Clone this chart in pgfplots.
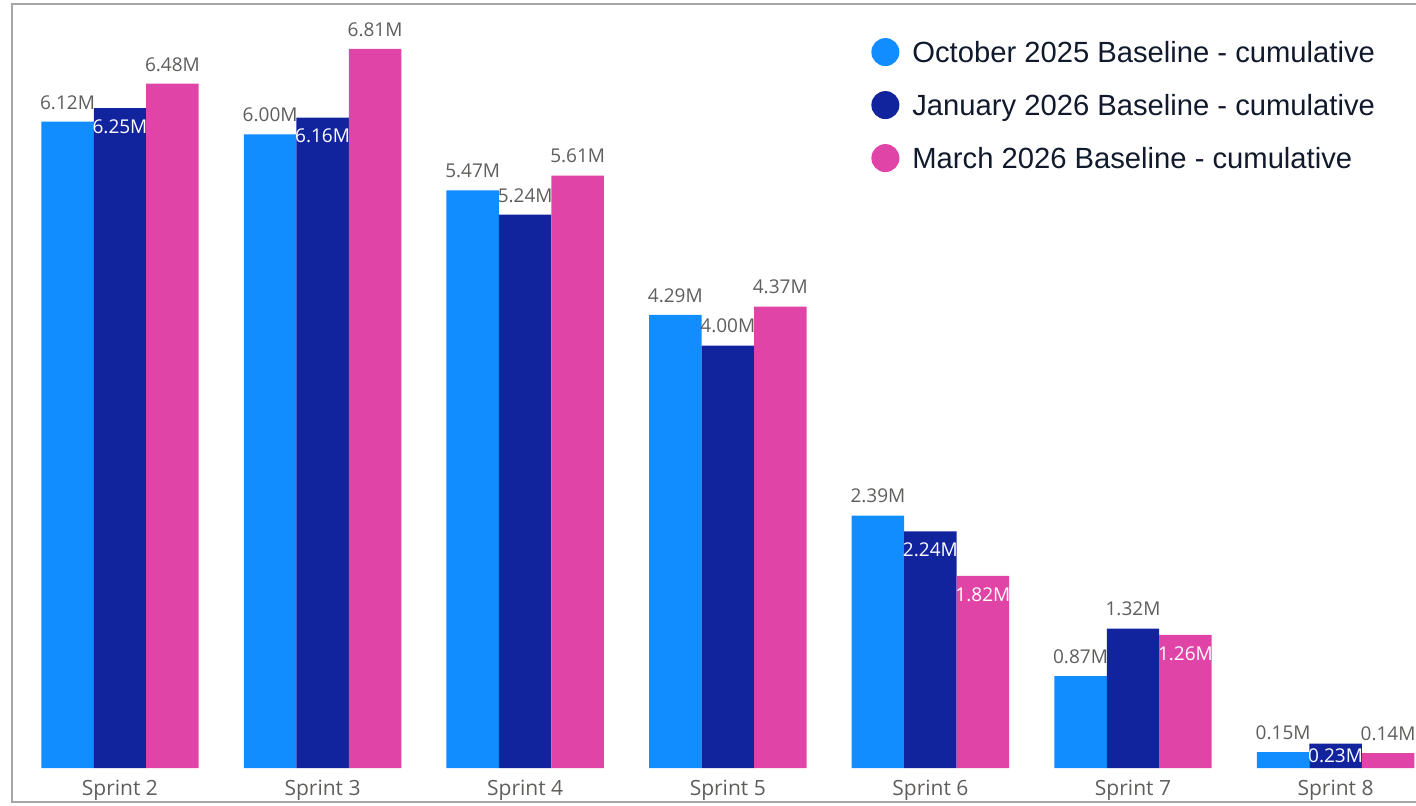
\documentclass[border=0pt]{standalone}
\usepackage{fontspec}
\usepackage{pgfplots}
\pgfplotsset{compat=1.18}
\usepackage{pgfplotstable}
\newfontfamily\labfont{Open Sans}
\newfontfamily\legfont{Liberation Sans}
\definecolor{cOct}{HTML}{118DFF}
\definecolor{cJan}{HTML}{12239E}
\definecolor{cMar}{HTML}{E044A7}
\definecolor{lab}{HTML}{605E5C}
\definecolor{legtxt}{HTML}{111A2C}
\definecolor{framec}{HTML}{A6A6A6}

\pgfplotstableread{
x oct jan mar
0 6.12 6.25 6.48
1 6.00 6.16 6.81
2 5.47 5.24 5.61
3 4.29 4.00 4.37
4 2.39 2.24 1.82
5 0.87 1.32 1.26
6 0.15 0.23 0.14
}\data

\pgfplotsset{
 lbl/.style={bar width=0.259, draw=none, fill=none, forget plot,
   nodes near coords={\pgfmathprintnumber[assume math mode=true,fixed,fixed zerofill,precision=2]{\pgfplotspointmeta}M},
   every node near coord/.append style={font=\labfont\fontsize{9.5}{11}\selectfont, inner sep=0pt, anchor=south}},
 lblabove/.style={lbl, every node near coord/.append style={text=lab, yshift=6pt}},
 lblinside/.style={lbl, every node near coord/.append style={text=white, yshift=#1}},
 lblinside/.default=-13pt,
}

\begin{document}
\begin{tikzpicture}
\useasboundingbox (0,0) rectangle (708pt,402.5pt);
\begin{axis}[at={(6pt,1.5pt)}, anchor=south west, scale only axis,
 width=702pt, height=399pt,
 xmin=-0.533, xmax=6.397, ymin=-0.322, ymax=7.235,
 ybar=0pt, bar width=0.259,
 axis line style={draw=none}, ytick=\empty,
 xtick={0,...,6},
 xticklabels={Sprint 2,Sprint 3,Sprint 4,Sprint 5,Sprint 6,Sprint 7,Sprint 8},
 major tick length=0pt,
 xticklabel style={font=\labfont\fontsize{10.5}{12}\selectfont, text=lab, anchor=base, yshift=3.5pt, inner sep=0pt},
 clip=false,
 legend style={at={(0.6118,0.9597)}, anchor=north west, draw=none, fill=none, inner sep=0pt,
   font=\legfont\fontsize{14.6}{17}\selectfont, text=legtxt, row sep=10.5pt,
   nodes={inner sep=0pt, text height=13pt, text depth=3pt}},
 legend cell align=left,
]
\addplot[fill=cOct, draw=none, bar shift=-0.259,
  legend image code/.code={\fill[cOct] (7pt,0.25pt) circle (7pt); \path (20.5pt,0.25pt);}] table[x=x,y=oct]{\data};
\addlegendentry{October 2025 Baseline - cumulative}
\addplot[fill=cJan, draw=none, bar shift=0,
  legend image code/.code={\fill[cJan] (7pt,0.25pt) circle (7pt); \path (20.5pt,0.25pt);}] table[x=x,y=jan]{\data};
\addlegendentry{January 2026 Baseline - cumulative}
\addplot[fill=cMar, draw=none, bar shift=0.259,
  legend image code/.code={\fill[cMar] (7pt,0.25pt) circle (7pt); \path (20.5pt,0.25pt);}] table[x=x,y=mar]{\data};
\addlegendentry{March 2026 Baseline - cumulative}

\addplot[lblabove, bar shift=-0.259] table[x=x,y=oct]{\data};
\addplot[lblabove, bar shift=0] coordinates {(2,5.24) (3,4.00) (5,1.32)};
\addplot[lblinside, bar shift=0] coordinates {(0,6.25) (1,6.16) (4,2.24)};
\addplot[lblinside=-9.5pt, bar shift=0] coordinates {(6,0.23)};
\addplot[lblabove, bar shift=0.259] coordinates {(0,6.48) (1,6.81) (2,5.61) (3,4.37) (6,0.14)};
\addplot[lblinside, bar shift=0.259] coordinates {(4,1.82) (5,1.26)};

\draw[framec, line width=1pt] (rel axis cs:1,1) -- (rel axis cs:0,1) -- (rel axis cs:0,0) -- (rel axis cs:1,0);
\end{axis}
\end{tikzpicture}
\end{document}
